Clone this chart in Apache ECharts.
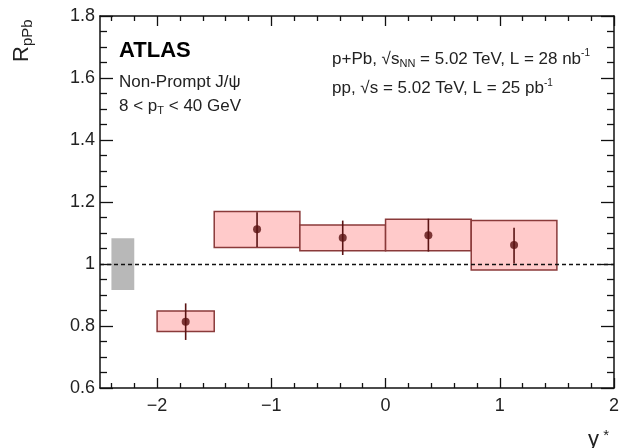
<!DOCTYPE html>
<html>
<head>
<meta charset="utf-8">
<script src="https://cdn.jsdelivr.net/npm/echarts@6/dist/echarts.min.js"></script>
<style>
  html, body { margin: 0; padding: 0; background: #fff; }
  #chart { width: 626px; height: 448px; }
</style>
</head>
<body>
<div id="chart"></div>
<script>
/* ===========================
   Data
=========================== */

const binLow = [-2.0, -1.5, -0.75, 0.0, 0.75];
const binHigh = [-1.5, -0.75, 0.0, 0.75, 1.5];
const binCenter = [-1.75, -1.125, -0.375, 0.375, 1.125];
const rpPb = [0.814, 1.112, 1.085, 1.093, 1.061];
const statLow = [0.755, 1.055, 1.029, 1.040, 1.002];
const statHigh = [0.873, 1.167, 1.140, 1.146, 1.117];
const systLow = [0.782, 1.053, 1.043, 1.043, 0.981];
const systHigh = [0.848, 1.169, 1.126, 1.144, 1.140];

// global normalisation uncertainty box
const normBox = [-2.4, -2.2, 0.916, 1.083];

const xMajor = [-2, -1, 0, 1, 2];
const xMinor = [-2.4, -2.2, -1.8, -1.6, -1.4, -1.2, -0.8, -0.6, -0.4, -0.2,
    0.2, 0.4, 0.6, 0.8, 1.2, 1.4, 1.6, 1.8];

/* ===========================
   Helpers
=========================== */

const font = "Liberation Sans, Arial, Helvetica, sans-serif";
const ink = "#111";

function boxRender(fill, stroke) {
    return function (params, api) {
        const p0 = api.coord([api.value(0), api.value(3)]);
        const p1 = api.coord([api.value(1), api.value(2)]);
        return {
            type: "rect",
            shape: { x: p0[0], y: p0[1], width: p1[0] - p0[0], height: p1[1] - p0[1] },
            style: { fill: fill, stroke: stroke, lineWidth: stroke ? 1.5 : 0 }
        };
    };
}

function xAxisDef(pos, values, len, labels, line) {
    return {
        type: "value",
        position: pos,
        min: -2.5,
        max: 2,
        axisLine: { show: line, onZero: false, lineStyle: { color: ink, width: 1.5 } },
        axisTick: { inside: true, length: len, customValues: values, lineStyle: { color: ink, width: 1.3 } },
        axisLabel: {
            show: labels,
            customValues: values,
            fontFamily: font,
            fontSize: 18,
            color: "#222",
            margin: 9,
            formatter: v => String(v).replace("-", "\u2212")
        },
        splitLine: { show: false }
    };
}

function yAxisDef(pos, labels) {
    return {
        type: "value",
        position: pos,
        min: 0.6,
        max: 1.8,
        interval: 0.2,
        axisLine: { show: true, onZero: false, lineStyle: { color: ink, width: 1.5 } },
        axisTick: { inside: true, length: 13, lineStyle: { color: ink, width: 1.3 } },
        minorTick: { show: true, splitNumber: 4, length: 7, lineStyle: { color: ink, width: 1.3 } },
        axisLabel: {
            show: labels,
            fontFamily: font,
            fontSize: 18,
            color: "#222",
            margin: 5,
            formatter: v => String(Math.round(v * 10) / 10)
        },
        splitLine: { show: false }
    };
}

/* ===========================
   Chart
=========================== */

const chart = echarts.init(document.getElementById("chart"));

const sub = { fontSize: 11, verticalAlign: "bottom", padding: [10, 0, 0, 0], fontFamily: font, fill: "#222" };
const sup = { fontSize: 10, verticalAlign: "top", padding: [0, 0, 10, 0], fontFamily: font, fill: "#222" };
const txt = { fontSize: 17, fontFamily: font, fill: "#222" };

chart.setOption({
    animation: false,
    backgroundColor: "#fff",
    grid: { left: 100, right: 12, top: 16, bottom: 60 },
    xAxis: [
        xAxisDef("bottom", xMajor, 10, true, true),
        xAxisDef("bottom", xMinor, 5, false, false),
        xAxisDef("top", xMajor, 10, false, true),
        xAxisDef("top", xMinor, 5, false, false)
    ],
    yAxis: [
        yAxisDef("left", true),
        yAxisDef("right", false)
    ],
    series: [
        {
            type: "custom",
            name: "norm",
            renderItem: boxRender("#b8b8b8", null),
            data: [normBox],
            z: 1
        },
        {
            type: "custom",
            name: "syst",
            renderItem: boxRender("#ffcaca", "#8a3a3a"),
            data: binLow.map((v, i) => [v, binHigh[i], systLow[i], systHigh[i]]),
            z: 2
        },
        {
            type: "custom",
            name: "stat",
            renderItem: function (params, api) {
                const a = api.coord([api.value(0), api.value(1)]);
                const b = api.coord([api.value(0), api.value(2)]);
                return {
                    type: "line",
                    shape: { x1: a[0], y1: a[1], x2: b[0], y2: b[1] },
                    style: { stroke: "#5a1414", lineWidth: 1.6 }
                };
            },
            data: binCenter.map((v, i) => [v, statLow[i], statHigh[i]]),
            z: 4,
            markLine: {
                silent: true,
                symbol: "none",
                label: { show: false },
                lineStyle: { color: ink, type: [4, 3], width: 1.4 },
                data: [{ yAxis: 1 }],
                z: 3
            }
        },
        {
            type: "scatter",
            name: "RpPb",
            symbol: "circle",
            symbolSize: 8,
            itemStyle: { color: "#5a1010" },
            data: binCenter.map((v, i) => [v, rpPb[i]]),
            z: 5
        }
    ],
    graphic: [
        {
            type: "text",
            x: 22, y: 62,
            rotation: Math.PI / 2,
            style: {
                text: "{r|R}{s|pPb}",
                textVerticalAlign: "middle",
                rich: {
                    r: { fontSize: 22, fontFamily: font, fill: "#222" },
                    s: { fontSize: 15, fontFamily: font, fill: "#222", verticalAlign: "bottom", padding: [11, 0, 0, 0] }
                }
            }
        },
        {
            type: "text",
            x: 609, y: 440,
            style: {
                text: "{r|y}{s| *}",
                textAlign: "right",
                textVerticalAlign: "middle",
                rich: {
                    r: { fontSize: 22, fontFamily: font, fill: "#222" },
                    s: { fontSize: 15, fontFamily: font, fill: "#222", verticalAlign: "top", padding: [0, 0, 8, 0] }
                }
            }
        },
        {
            type: "text",
            x: 119, y: 51,
            style: {
                text: "ATLAS",
                fontSize: 22,
                fontWeight: "bold",
                fontFamily: font,
                fill: "#000",
                textVerticalAlign: "middle"
            }
        },
        {
            type: "text",
            x: 119, y: 82,
            style: {
                text: "Non-Prompt J/\u03c8",
                fontSize: 17,
                fontFamily: font,
                fill: "#222",
                textVerticalAlign: "middle"
            }
        },
        {
            type: "text",
            x: 119, y: 106,
            style: {
                text: "{t|8 < p}{s|T}{t| < 40 GeV}",
                textVerticalAlign: "middle",
                rich: { t: txt, s: sub }
            }
        },
        {
            type: "text",
            x: 332, y: 59,
            style: {
                text: "{t|p+Pb, \u221as}{s|NN}{t| = 5.02 TeV, L = 28 nb}{u|-1}",
                textVerticalAlign: "middle",
                rich: { t: txt, s: sub, u: sup }
            }
        },
        {
            type: "text",
            x: 332, y: 88,
            style: {
                text: "{t|pp, \u221as = 5.02 TeV, L = 25 pb}{u|-1}",
                textVerticalAlign: "middle",
                rich: { t: txt, u: sup }
            }
        }
    ]
});
</script>
</body>
</html>
